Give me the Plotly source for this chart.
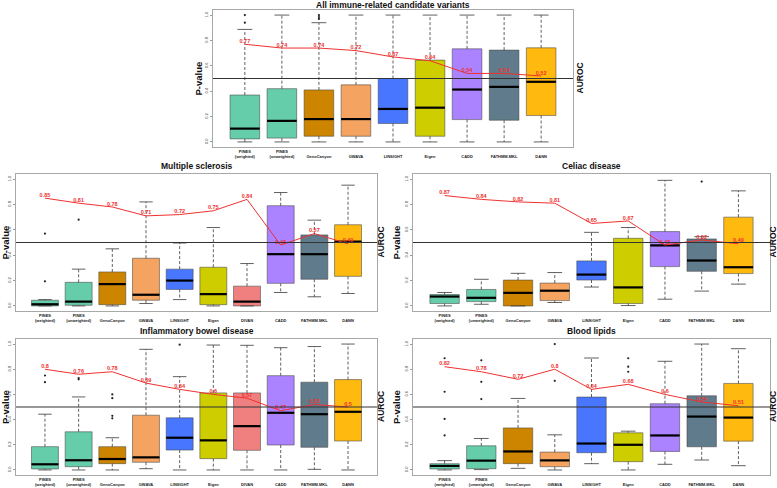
import plotly.graph_objects as go

# ---------------- data ----------------
CATS9 = ["PINES (weighted)", "PINES (unweighted)", "GenoCanyon", "GWAVA", "LINSIGHT",
         "Eigen", "CADD", "FATHMM.MKL", "DANN"]
CATS10 = ["PINES (weighted)", "PINES (unweighted)", "GenoCanyon", "GWAVA", "LINSIGHT",
          "Eigen", "DIVAN", "CADD", "FATHMM.MKL", "DANN"]
TICKS9 = ["PINES<br>(weighted)", "PINES<br>(unweighted)", " <br>GenoCanyon", " <br>GWAVA",
          " <br>LINSIGHT", " <br>Eigen", " <br>CADD", " <br>FATHMM.MKL", " <br>DANN"]
TICKS10 = ["PINES<br>(weighted)", "PINES<br>(unweighted)", " <br>GenoCanyon", " <br>GWAVA",
           " <br>LINSIGHT", " <br>Eigen", " <br>DIVAN", " <br>CADD", " <br>FATHMM.MKL", " <br>DANN"]
Y_TICKS = [0.0, 0.2, 0.4, 0.6, 0.8, 1.0]

# All immune-related candidate variants
ALL_Q1 = [0.024, 0.03, 0.045, 0.045, 0.145, 0.045, 0.176, 0.171, 0.208]
ALL_MED = [0.105, 0.166, 0.18, 0.18, 0.26, 0.27, 0.413, 0.434, 0.474]
ALL_Q3 = [0.37, 0.42, 0.41, 0.45, 0.5, 0.645, 0.734, 0.724, 0.742]
ALL_LO = [0.0, 0.0, 0.0, 0.0, 0.0, 0.0, 0.0, 0.0, 0.0]
ALL_HI = [0.887, 1.0, 0.94, 1.0, 1.0, 1.0, 1.0, 1.0, 1.0]
ALL_OUT = [[0.94, 1.0], [], [0.97, 0.985, 1.0], [], [], [], [], [], []]
ALL_AUROC = [0.77, 0.74, 0.74, 0.72, 0.67, 0.64, 0.54, 0.54, 0.52]

# Multiple sclerosis
MS_Q1 = [0.0, 0.005, 0.01, 0.045, 0.13, 0.01, 0.0, 0.178, 0.21, 0.233]
MS_MED = [0.013, 0.034, 0.172, 0.088, 0.2, 0.093, 0.034, 0.408, 0.408, 0.507]
MS_Q3 = [0.045, 0.186, 0.268, 0.376, 0.29, 0.305, 0.156, 0.79, 0.56, 0.64]
MS_LO = [0.0, 0.0, 0.0, 0.019, 0.05, 0.0, 0.0, 0.106, 0.072, 0.098]
MS_HI = [0.05, 0.29, 0.45, 0.82, 0.496, 0.618, 0.334, 0.894, 0.676, 0.952]
MS_OUT = [[0.194, 0.57], [0.68], [], [], [], [], [], [], [], []]
MS_AUROC = [0.85, 0.81, 0.78, 0.71, 0.72, 0.75, 0.84, 0.48, 0.57, 0.49]

# Celiac disease
CD_Q1 = [0.019, 0.034, 0.0, 0.042, 0.204, 0.019, 0.31, 0.273, 0.255]
CD_MED = [0.074, 0.064, 0.103, 0.12, 0.247, 0.146, 0.477, 0.358, 0.305]
CD_Q3 = [0.09, 0.13, 0.204, 0.18, 0.355, 0.533, 0.586, 0.528, 0.7]
CD_LO = [0.0, 0.013, 0.0, 0.027, 0.149, 0.003, 0.053, 0.117, 0.172]
CD_HI = [0.106, 0.21, 0.257, 0.263, 0.58, 0.618, 0.99, 0.546, 0.907]
CD_OUT = [[], [], [], [], [], [], [], [0.98], []]
CD_AUROC = [0.87, 0.84, 0.82, 0.81, 0.65, 0.67, 0.48, 0.52, 0.49]

# Inflammatory bowel disease
IBD_Q1 = [0.008, 0.026, 0.05, 0.061, 0.158, 0.09, 0.156, 0.198, 0.18, 0.23]
IBD_MED = [0.045, 0.077, 0.087, 0.1, 0.256, 0.235, 0.348, 0.454, 0.443, 0.462]
IBD_Q3 = [0.185, 0.303, 0.185, 0.435, 0.414, 0.612, 0.612, 0.749, 0.697, 0.718]
IBD_LO = [0.0, 0.0, 0.0, 0.01, 0.0, 0.0, 0.0, 0.0, 0.005, 0.0]
IBD_HI = [0.443, 0.58, 0.256, 0.958, 0.741, 0.992, 0.99, 0.971, 0.98, 1.0]
IBD_OUT = [[0.697, 0.75], [0.72, 0.73], [0.41, 0.43, 0.57, 0.6], [], [0.995], [], [], [], [], []]
IBD_AUROC = [0.8, 0.76, 0.78, 0.69, 0.64, 0.6, 0.57, 0.47, 0.52, 0.5]

# Blood lipids
BL_Q1 = [0.008, 0.01, 0.05, 0.026, 0.137, 0.066, 0.147, 0.184, 0.229]
BL_MED = [0.032, 0.074, 0.147, 0.076, 0.21, 0.2, 0.274, 0.424, 0.416]
BL_Q3 = [0.05, 0.192, 0.334, 0.142, 0.579, 0.295, 0.526, 0.589, 0.687]
BL_LO = [0.0, 0.003, 0.013, 0.0, 0.05, 0.0, 0.045, 0.079, 0.034]
BL_HI = [0.074, 0.25, 0.568, 0.279, 0.889, 0.308, 0.863, 1.0, 0.963]
BL_OUT = [[0.274, 0.405, 0.621, 0.887], [0.563, 0.7, 0.871], [], [0.708, 1.0], [],
          [0.78, 0.82, 0.887], [], [], []]
BL_AUROC = [0.82, 0.78, 0.72, 0.8, 0.64, 0.68, 0.6, 0.54, 0.51]

# ---------------- style ----------------
COLORS = {
    "PINES (weighted)": "#66CDAA", "PINES (unweighted)": "#66CDAA",
    "GenoCanyon": "#CD8500", "GWAVA": "#F4A460", "LINSIGHT": "#4876FF",
    "Eigen": "#CDCD00", "DIVAN": "#F08080", "CADD": "#AB82FF",
    "FATHMM.MKL": "#607B8B", "DANN": "#FFB90F",
}
FONT = "Liberation Sans, Arial, sans-serif"
W, H = 777, 488


def px_x(v):
    return v / W


def px_y(v):
    return 1 - v / H


PANELS = [
    dict(title="All immune-related candidate variants", cats=CATS9, ticks=TICKS9,
         q1=ALL_Q1, med=ALL_MED, q3=ALL_Q3, lo=ALL_LO, hi=ALL_HI, out=ALL_OUT, auc=ALL_AUROC,
         frame=(213, 573, 10, 147), title_y=5, pv_x=198, au_x=579),
    dict(title="Multiple sclerosis", cats=CATS10, ticks=TICKS10,
         q1=MS_Q1, med=MS_MED, q3=MS_Q3, lo=MS_LO, hi=MS_HI, out=MS_OUT, auc=MS_AUROC,
         frame=(16, 377, 174, 311), title_y=166, pv_x=5, au_x=381),
    dict(title="Celiac disease", cats=CATS9, ticks=TICKS9,
         q1=CD_Q1, med=CD_MED, q3=CD_Q3, lo=CD_LO, hi=CD_HI, out=CD_OUT, auc=CD_AUROC,
         frame=(413, 770, 174, 311), title_y=166, pv_x=396, au_x=773),
    dict(title="Inflammatory bowel disease", cats=CATS10, ticks=TICKS10,
         q1=IBD_Q1, med=IBD_MED, q3=IBD_Q3, lo=IBD_LO, hi=IBD_HI, out=IBD_OUT, auc=IBD_AUROC,
         frame=(16, 377, 339, 475), title_y=331, pv_x=5, au_x=381),
    dict(title="Blood lipids", cats=CATS9, ticks=TICKS9,
         q1=BL_Q1, med=BL_MED, q3=BL_Q3, lo=BL_LO, hi=BL_HI, out=BL_OUT, auc=BL_AUROC,
         frame=(413, 770, 339, 475), title_y=331, pv_x=396, au_x=773),
]

fig = go.Figure()
annotations = []
shapes = []
layout_axes = {}

BOXW = 0.8
CAPW = 0.4

for k, p in enumerate(PANELS):
    sfx = "" if k == 0 else str(k + 1)
    xa, ya = "x" + sfx, "y" + sfx
    n = len(p["cats"])
    xs = list(range(n))

    # boxes
    for i, c in enumerate(p["cats"]):
        fig.add_trace(go.Box(
            x=[i], q1=[p["q1"][i]], median=[p["med"][i]], q3=[p["q3"][i]],
            lowerfence=[p["q1"][i]], upperfence=[p["q3"][i]],
            width=BOXW, fillcolor=COLORS[c], whiskerwidth=0,
            line=dict(color="rgba(70,70,70,0.55)", width=1),
            boxpoints=False, hoverinfo="skip", showlegend=False,
            xaxis=xa, yaxis=ya,
        ))

    # whiskers (dashed), caps, medians
    wx, wy, cx, cy, mx, my = [], [], [], [], [], []
    for i in xs:
        wx += [i, i, None, i, i, None]
        wy += [p["q3"][i], p["hi"][i], None, p["q1"][i], p["lo"][i], None]
        cx += [i - CAPW / 2, i + CAPW / 2, None, i - CAPW / 2, i + CAPW / 2, None]
        cy += [p["hi"][i], p["hi"][i], None, p["lo"][i], p["lo"][i], None]
        mx += [i - BOXW / 2, i + BOXW / 2, None]
        my += [p["med"][i], p["med"][i], None]
    fig.add_trace(go.Scatter(x=wx, y=wy, mode="lines", xaxis=xa, yaxis=ya,
                             line=dict(color="rgba(60,60,60,0.9)", width=0.9, dash="3px,2px"),
                             hoverinfo="skip", showlegend=False))
    fig.add_trace(go.Scatter(x=cx, y=cy, mode="lines", xaxis=xa, yaxis=ya,
                             line=dict(color="rgba(60,60,60,0.9)", width=0.9),
                             hoverinfo="skip", showlegend=False))
    fig.add_trace(go.Scatter(x=mx, y=my, mode="lines", xaxis=xa, yaxis=ya,
                             line=dict(color="black", width=2.2),
                             hoverinfo="skip", showlegend=False))

    # outliers
    ox, oy = [], []
    for i in xs:
        for v in p["out"][i]:
            ox.append(i)
            oy.append(v)
    fig.add_trace(go.Scatter(x=ox, y=oy, mode="markers", xaxis=xa, yaxis=ya,
                             marker=dict(color="#222", size=2.2),
                             hoverinfo="skip", showlegend=False))

    # AUROC line
    fig.add_trace(go.Scatter(
        x=xs, y=p["auc"], mode="lines+text", xaxis=xa, yaxis=ya,
        text=["<b>%s</b>" % ("%g" % v) for v in p["auc"]],
        textposition="top center",
        textfont=dict(color="#F03030", size=5.5, family=FONT),
        line=dict(color="#F03030", width=1),
        hoverinfo="skip", showlegend=False,
    ))

    x0, x1, y0, y1 = p["frame"]
    layout_axes["xaxis" + sfx] = dict(
        domain=[px_x(x0), px_x(x1)], range=[-0.86, n - 1 + 0.86], anchor=ya,
        tickmode="array", tickvals=xs, ticktext=["<b>%s</b>" % t for t in p["ticks"]],
        tickfont=dict(size=4, family=FONT, color="#222"), ticks="", ticklen=0,
        showgrid=False, zeroline=False, showline=True, mirror=True,
        linecolor="#a8a8a8", linewidth=1, tickangle=0,
    )
    layout_axes["yaxis" + sfx] = dict(
        domain=[px_y(y1), px_y(y0)], range=[-0.04, 1.04], anchor=xa,
        tickmode="array", tickvals=Y_TICKS, ticktext=["%.1f" % v for v in Y_TICKS],
        tickfont=dict(size=4, family=FONT, color="#333"), tickangle=-90,
        ticks="outside", ticklen=2, tickcolor="#999",
        showgrid=False, zeroline=False, showline=True, mirror=True,
        linecolor="#a8a8a8", linewidth=1,
    )

    # reference line at 0.5
    shapes.append(dict(type="line", xref=xa + " domain", yref=ya, x0=0, x1=1, y0=0.5, y1=0.5,
                       line=dict(color="#333", width=1), layer="above"))

    # titles & labels
    annotations.append(dict(text="<b>%s</b>" % p["title"], xref="paper", yref="paper",
                            x=px_x((x0 + x1) / 2), y=px_y(p["title_y"]), showarrow=False,
                            xanchor="center", yanchor="middle",
                            font=dict(size=8.5, family=FONT, color="#111")))
    annotations.append(dict(text="<b>P-value</b>", xref="paper", yref="paper",
                            x=px_x(p["pv_x"]), y=px_y((y0 + y1) / 2), showarrow=False,
                            textangle=-90, xanchor="center", yanchor="middle",
                            font=dict(size=9.5, family=FONT, color="#111")))
    annotations.append(dict(text="<b>AUROC</b>", xref="paper", yref="paper",
                            x=px_x(p["au_x"]), y=px_y((y0 + y1) / 2), showarrow=False,
                            textangle=-90, xanchor="center", yanchor="middle",
                            font=dict(size=8.5, family=FONT, color="#111")))

fig.update_layout(
    width=W, height=H, margin=dict(l=0, r=0, t=0, b=0),
    paper_bgcolor="white", plot_bgcolor="white",
    boxmode="overlay", showlegend=False,
    annotations=annotations, shapes=shapes,
    **layout_axes,
)

fig.write_html("out.html",
               config={"displayModeBar": False},
               post_script="document.body.style.margin='0px';document.body.style.overflow='hidden';")
